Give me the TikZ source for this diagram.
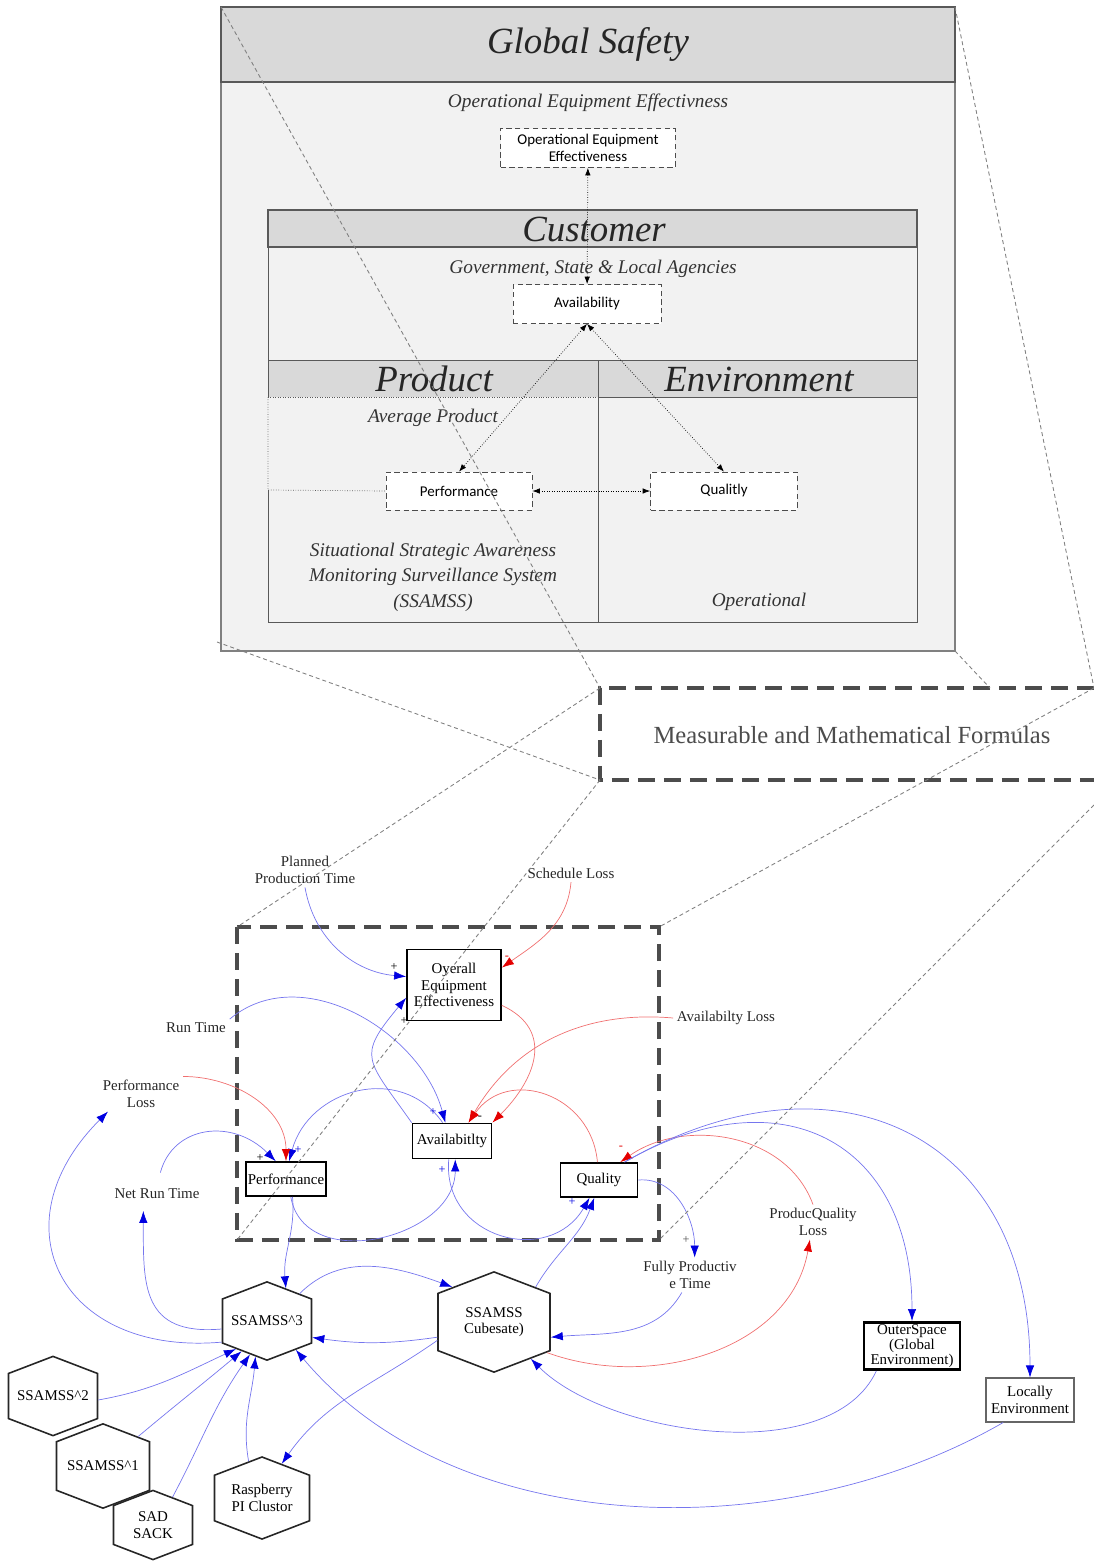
\documentclass[tikz,border=0pt]{standalone}
\usepackage{fontspec}
\setmainfont{Liberation Serif}
\newfontfamily\boxfont{Carlito}
\usepackage{tikz}
\usetikzlibrary{arrows.meta}
\usetikzlibrary{shapes.symbols}
\definecolor{panelgray}{RGB}{242,242,242}
\definecolor{headgray}{RGB}{217,217,217}
\definecolor{framegray}{RGB}{128,128,128}
\definecolor{linegray}{RGB}{89,89,89}
\definecolor{linkblue}{RGB}{118,118,238}
\definecolor{headblue}{RGB}{0,0,225}
\definecolor{linkred}{RGB}{240,112,112}
\definecolor{headred}{RGB}{228,0,0}
\newcommand{\poslink}{\draw[linkblue, -{Latex[length=2.4mm,width=1.7mm,color=headblue]}]}
\newcommand{\neglink}{\draw[linkred, -{Latex[length=2.4mm,width=1.7mm,color=headred]}]}
\newcommand{\dotlink}{\draw[densely dotted, {Latex[length=1.5mm,width=1.1mm]}-{Latex[length=1.5mm,width=1.1mm]}]}
\newcommand{\zoomline}{\draw[framegray, dash pattern=on 0.08cm off 0.06cm, line width=0.5pt]}
\newcommand{\lowfont}{\fontsize{8.5}{9.5}\selectfont}

\begin{document}
\begin{tikzpicture}[x=0.02cm, y=0.02cm,
    panel/.style={fill=panelgray, draw=framegray, line width=0.6pt},
    header/.style={fill=headgray, draw=linegray, line width=0.6pt},
    bandtitle/.style={font=\fontsize{21}{25}\selectfont\itshape, text=black!85},
    areatext/.style={font=\fontsize{11}{14.5}\selectfont\itshape, text=black!80, align=center},
    dashbox/.style={draw=black!70, densely dashed, fill=white, font=\boxfont\fontsize{8.5}{10}\selectfont, align=center, inner sep=0pt},
    zoomframe/.style={draw=black!70, line width=1.9pt, dash pattern=on 0.34cm off 0.18cm},
    varlabel/.style={font=\lowfont, text=black!85, align=center, inner sep=2pt},
    stockbox/.style={draw=black, line width=1pt, font=\lowfont, align=center, inner sep=1pt},
    hexnode/.style={signal, signal to=north and south, signal pointer angle=138, draw=black!85, line width=0.9pt, font=\lowfont, align=center, inner sep=1pt},
    polarity/.style={font=\fontsize{7}{8}\selectfont, inner sep=0pt}]
    \useasboundingbox (0,0) rectangle (1094,-1562);

    % Draw panels
    \filldraw[panel] (221,-7) rectangle (955,-651);
    \filldraw[header] (221,-7) rectangle (955,-82);
    \fill[panelgray] (268,-210) rectangle (917,-622);
    \filldraw[header] (268,-210) rectangle (917,-247);
    \fill[headgray] (268,-360) rectangle (917,-397);
    \draw[linegray] (268,-360) -- (917,-360);
    \draw[linegray] (598,-397) -- (917,-397);
    \draw[linegray] (598,-360) -- (598,-622);
    \draw[linegray] (268,-397) -- (268,-210) -- (917,-210) -- (917,-622) -- (268,-622) -- (268,-490);

    % Draw panel texts
    \node[bandtitle] (gsafety) at (588,-44) {Global Safety};
    \node[areatext] (oeecap) at (588,-103) {Operational Equipment Effectivness};
    \node[dashbox, minimum width=3.5cm, minimum height=0.78cm] (toee) at (588,-148) {Operational Equipment\\Effectiveness};
    \node[bandtitle] (customer) at (594,-229) {Customer};
    \node[areatext] (gov) at (593,-269) {Government, State \& Local Agencies};
    \node[dashbox, minimum width=2.96cm, minimum height=0.78cm] (tavail) at (587,-304) {Availability};
    \node[bandtitle] (product) at (434,-379) {Product};
    \node[bandtitle] (environment) at (759,-379) {Environment};
    \node[areatext] (avgprod) at (433,-418) {Average Product};
    \node[dashbox, minimum width=2.92cm, minimum height=0.76cm] (tperf) at (459,-491) {Performance};
    \node[dashbox, minimum width=2.94cm, minimum height=0.76cm] (tqual) at (724,-491) {Qualitly};
    \node[areatext] (ssamss) at (433,-577) {Situational Strategic Awareness\\Monitoring Surveillance System\\(SSAMSS)};
    \node[areatext] (operational) at (759,-602) {Operational};

    \draw[densely dotted, linegray] (268,-397) -- (598,-397);
    \draw[densely dotted, linegray] (268,-397) -- (268,-490) -- (tperf.west);

    \dotlink (toee) -- (tavail);
    \dotlink (tavail.south) -- (tperf.north);
    \dotlink (tavail.south) -- (tqual.north);
    \dotlink (tperf) -- (tqual);

    % Draw frames
    \coordinate (top nw) at (221,-7);
    \coordinate (top ne) at (955,-7);
    \coordinate (top sw) at (217,-642);
    \coordinate (top se) at (955,-651);
    \coordinate (mid nw) at (600,-688);
    \coordinate (mid ne) at (1094,-688);
    \coordinate (mid n) at (990,-688);
    \coordinate (mid sw) at (600,-780);
    \coordinate (mid se) at (1094,-780);
    \coordinate (mid e) at (1094,-805);
    \coordinate (low nw) at (237,-927);
    \coordinate (low ne) at (659,-927);
    \coordinate (low sw) at (237,-1240);
    \coordinate (low se) at (659,-1240);

    \draw[zoomframe] (mid ne) -- (mid nw) -- (mid sw) -- (mid se);
    \node[font=\fontsize{14}{16}\selectfont, text=black!70] (formulas) at (852,-735) {Measurable and Mathematical Formulas};
    \draw[zoomframe] (low nw) rectangle (low se);

    % Draw variables
    \node[varlabel] (ppt) at (305,-870) {Planned\\Production Time};
    \node[varlabel] (sloss) at (571,-873) {Schedule Loss};
    \node[stockbox, minimum width=1.88cm, minimum height=1.42cm] (oee) at (454,-985) {Oyerall\\Equipment\\Effectiveness};
    \node[varlabel] (rtime) at (196,-1028) {Run Time};
    \node[varlabel] (aloss) at (726,-1018) {Availabilty Loss};
    \node[varlabel] (ploss) at (141,-1094) {Performance\\Loss};
    \node[stockbox, minimum width=1.58cm, minimum height=0.7cm] (avail) at (452,-1141) {Availabitlty};
    \node[stockbox, minimum width=1.58cm, minimum height=0.68cm] (perf) at (286,-1179) {Performance};
    \node[stockbox, minimum width=1.54cm, minimum height=0.68cm] (qual) at (599,-1180) {Quality};
    \node[varlabel] (nrt) at (157,-1194) {Net Run Time};
    \node[varlabel] (fpt) at (690,-1275) {Fully Productiv\\e Time};
    \node[varlabel] (pql) at (813,-1222) {ProducQuality\\Loss};
    \node[stockbox, line width=1.6pt, minimum width=1.92cm, minimum height=0.84cm, font=\fontsize{8.5}{7.6}\selectfont] (outer) at (912,-1346) {OuterSpace\\(Global\\Environment)};
    \node[stockbox, draw=black!60, line width=0.6pt, minimum width=1.76cm, minimum height=0.88cm] (local) at (1030,-1400) {Locally\\Environment};

    % Draw systems
    \node[hexnode, minimum width=1.78cm, minimum height=1.46cm] (s3) at (267,-1321) {SSAMSS\textasciicircum 3};
    \node[hexnode, minimum width=2.24cm, minimum height=1.63cm] (cube) at (494,-1322) {SSAMSS\\Cubesate)};
    \node[hexnode, minimum width=1.78cm, minimum height=1.48cm] (s2) at (53,-1396) {SSAMSS\textasciicircum 2};
    \node[hexnode, minimum width=1.86cm, minimum height=1.55cm] (s1) at (103,-1466) {SSAMSS\textasciicircum 1};
    \node[hexnode, minimum width=1.58cm, minimum height=1.11cm] (sad) at (153,-1525) {SAD\\SACK};
    \node[hexnode, minimum width=1.9cm, minimum height=1.41cm] (rpi) at (262,-1498) {Raspberry\\PI Clustor};

    % Draw links
    \poslink (ppt.south) to[out=-80,in=175] (oee.170);
    \neglink (sloss.south) to[out=-95,in=35] (oee.20);
    \poslink (rtime.north east) to[out=40,in=105] (avail.110);
    \poslink (avail.north west) to[out=125,in=230,looseness=1.6] (oee.195);
    \neglink (oee.-23) to[out=-25,in=45,looseness=1.3] (avail.north east);
    \neglink (aloss.west) to[out=175,in=60] (avail.48);
    \neglink (qual.95) to[out=95,in=55,looseness=1.3] (avail.48);
    \poslink (avail.117) to[out=125,in=75,looseness=1.2] (perf.80);
    \poslink (perf.-75) to[out=-80,in=-90,looseness=1.2] (avail.-80);
    \poslink (avail.-100) to[out=-95,in=-120,looseness=1.4] (qual.-118);
    \neglink (ploss.north east) to[out=0,in=90] (perf.north);
    \poslink[shorten <=0.26cm] (nrt.north) to[out=75,in=135,looseness=1.3] (perf.120);
    \poslink (perf.-70) to[out=-85,in=95] (s3.60);
    \poslink (s3.40) to[out=45,in=160] (cube.140);
    \poslink (cube.195) to[bend left=8] (s3.-20);
    \poslink (cube.198) to[out=215,in=55] (rpi.60);
    \poslink (cube.40) to[out=60,in=-110] (qual.-105);
    \poslink (fpt.-115) to[out=-120,in=5] (cube.-15);
    \poslink (qual.east) to[out=5,in=90] (fpt.75);
    \neglink (cube.-30) to[out=-20,in=-100] (pql.-100);
    \neglink (pql.north) to[out=110,in=35] (qual.40);
    \poslink (qual.35) to[out=30,in=90,looseness=1.4] (outer.north);
    \poslink (qual.35) to[out=30,in=90,looseness=1.35] (local.north);
    \poslink (outer.-145) to[out=-115,in=-45,looseness=0.8] (cube.-45);
    \poslink (local.-140) to[out=-150,in=-50,looseness=0.9] (s3.-45);
    \poslink[shorten >=0.16cm] (s3.190) to[out=185,in=-90,looseness=1.4] (nrt.-147);
    \poslink (s3.205) to[out=185,in=225,looseness=1.6] (ploss.-152);
    \poslink (s2.-5) to[out=10,in=205] (s3.222);
    \poslink (s1.40) to[out=40,in=220] (s3.230);
    \poslink (sad.55) to[out=62,in=235] (s3.243);
    \poslink (rpi.110) to[out=100,in=-95] (s3.252);

    % Draw polarities
    \foreach \x/\y/\s/\c in {394/967/+/black, 507/958/-/headred, 404/1021/+/black,
        433/1112/+/headblue, 480/1118/-/black, 298/1150/+/headblue, 260/1158/+/black,
        442/1170/+/headblue, 572/1202/+/headblue, 621/1148/-/headred, 686/1240/+/black!70} {
        \node[polarity, text=\c] (pol\x) at (\x,-\y) {\s};
    }

    % Draw zoom lines
    \zoomline (top nw) -- (mid nw);
    \zoomline (top sw) -- (mid sw);
    \zoomline (top ne) -- (mid ne);
    \zoomline (top se) -- (mid n);
    \zoomline (mid nw) -- (low nw);
    \zoomline (mid sw) -- (low sw);
    \zoomline (mid ne) -- (low ne);
    \zoomline (mid e) -- (low se);
\end{tikzpicture}
\end{document}
